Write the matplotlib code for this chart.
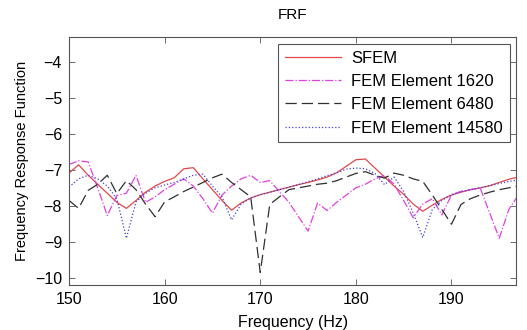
import numpy as np
import matplotlib
matplotlib.use('Agg')
from matplotlib import pyplot as plt

plt.rcParams['font.family'] = ['Liberation Sans', 'DejaVu Sans']

# frequency axis, 1 Hz steps
freq = np.arange(150, 198)

sfem = [-7.09, -6.86, -7.15, -7.40, -7.65, -7.90, -8.07, -7.85, -7.62, -7.45,
        -7.32, -7.22, -6.97, -6.94, -7.25, -7.55, -7.85, -8.12, -7.92, -7.78,
        -7.69, -7.62, -7.55, -7.48, -7.41, -7.35, -7.28, -7.20, -7.08, -6.90,
        -6.72, -6.70, -6.95, -7.20, -7.45, -7.68, -7.95, -8.15, -7.98, -7.82,
        -7.70, -7.62, -7.55, -7.50, -7.44, -7.35, -7.26, -7.20]

fem_1620 = [-6.85, -6.75, -6.78, -7.50, -8.27, -7.71, -7.65, -7.15, -7.90, -7.75,
            -7.55, -7.40, -7.25, -7.45, -7.80, -8.20, -7.70, -7.45, -7.25, -7.15,
            -7.35, -7.30, -7.60, -7.90, -8.30, -8.70, -7.92, -8.13, -7.90, -7.70,
            -7.50, -7.40, -7.25, -7.15, -7.40, -7.85, -8.33, -7.95, -7.80, -8.25,
            -7.70, -7.60, -7.55, -7.50, -8.20, -8.90, -8.10, -7.70]

fem_6480 = [-7.85, -8.07, -7.57, -7.40, -7.15, -7.66, -7.30, -7.55, -7.95, -8.30,
            -7.89, -7.75, -7.60, -7.48, -7.35, -7.22, -7.12, -7.35, -7.55, -7.75,
            -9.85, -7.96, -7.75, -7.55, -7.50, -7.45, -7.40, -7.37, -7.30, -7.20,
            -7.10, -7.05, -7.15, -7.23, -7.09, -7.15, -7.25, -7.32, -7.70, -8.10,
            -8.51, -7.96, -7.80, -7.70, -7.62, -7.55, -7.50, -7.45]

fem_14580 = [-7.48, -7.25, -7.15, -7.25, -7.45, -7.80, -8.90, -7.89, -7.65, -7.50,
             -7.42, -7.35, -7.25, -7.15, -7.12, -7.45, -7.75, -8.39, -7.95, -7.78,
             -7.69, -7.62, -7.55, -7.48, -7.41, -7.33, -7.25, -7.16, -7.08, -6.98,
             -6.95, -6.97, -7.10, -7.41, -7.20, -7.60, -8.20, -8.88, -8.10, -7.85,
             -7.69, -7.60, -7.55, -7.50, -7.44, -7.38, -7.32, -7.28]

labels = ['SFEM', 'FEM Element 1620', 'FEM Element 6480', 'FEM Element 14580']

fig = plt.figure(figsize=(5.27, 3.30), dpi=100)
ax = fig.add_axes([0.131, 0.136, 0.849, 0.751])

ax.plot(freq, sfem, color='#e04848', lw=0.9, ls='-', label=labels[0])
ax.plot(freq, fem_1620, color='#e040e0', lw=0.9, ls='-.', label=labels[1])
ax.plot(freq, fem_6480, color='#303030', lw=0.9, ls=(0, (9, 4)), label=labels[2])
ax.plot(freq, fem_14580, color='#4040e0', lw=0.9, ls=':', label=labels[3])

ax.set_xlim(150, 196.8)
ax.set_ylim(-10.2, -3.32)
ax.set_xticks([150, 160, 170, 180, 190])
ax.set_yticks([-10, -9, -8, -7, -6, -5, -4])
ax.tick_params(direction='in', length=4, width=0.6, labelsize=11.5,
               top=True, right=True, color='#555555', pad=5)
for sp in ax.spines.values():
    sp.set_color('#555555')
    sp.set_linewidth(0.8)

ax.set_title('FRF', fontsize=11, pad=13)
ax.set_xlabel('Frequency (Hz)', fontsize=11.5, labelpad=6)
ax.set_ylabel('Frequency Response Function', fontsize=10.5, labelpad=4)

leg = ax.legend(loc='upper right', fontsize=12, handlelength=3.4,
                fancybox=False, framealpha=1, edgecolor='#555555',
                borderaxespad=0.4, labelspacing=0.5, handletextpad=0.6,
                borderpad=0.4)
leg.get_frame().set_linewidth(0.8)

fig.savefig('out.png', dpi=100)
